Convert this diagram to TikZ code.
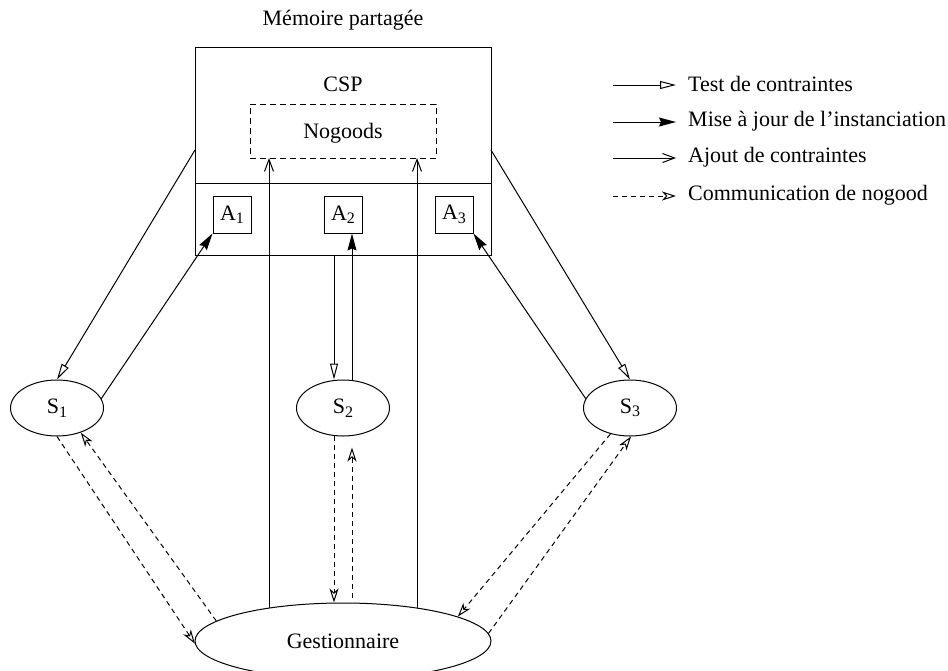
\documentclass[tikz,border=0pt]{standalone}
\usepackage{fontspec}
\setmainfont{Liberation Serif}
\usetikzlibrary{arrows.meta,shapes.geometric,calc}
\newcommand\mysub[1]{\raisebox{-0.35ex}{\fontsize{16}{16}\selectfont #1}}
\tikzset{
  every node/.style={font=\fontsize{22}{26}\selectfont},
  ln/.style={line width=1pt},
  test/.style={ln,-{Triangle[open,length=16pt,width=8pt]}},
  maj/.style={ln,-{Stealth[length=17pt,width=9pt,inset=2pt]}},
  ajout/.style={ln,-{Straight Barb[length=12pt,width=9pt]}},
  nogood/.style={ln,dash pattern=on 5pt off 4pt,-{Stealth[open,length=14pt,width=9pt,inset=4pt]}},
  abox/.style={draw,ln,minimum width=38pt,minimum height=37pt,inner sep=0pt},
  sell/.style={draw,ln,ellipse,minimum width=93pt,minimum height=56pt,inner sep=0pt},
}
\begin{document}
\begin{tikzpicture}[x=1pt,y=-1pt]
\useasboundingbox (0,0) rectangle (948,670);
\clip (0,0) rectangle (948,670);
% memory box
\node[draw,ln,minimum width=296pt,minimum height=208pt,inner sep=0pt] (mem) at (343,151) {};
\coordinate (divL) at (195,183);
\coordinate (divR) at (491,183);
\draw[ln] (divL) -- (divR);
\node (title) at (343,20) {Mémoire partagée};
\node (csp) at (343,84) {CSP};
\node[draw,ln,dash pattern=on 6pt off 4pt,minimum width=186pt,minimum height=54pt,inner sep=0pt] (ng) at (343,131) {};
\node (ngt) at (343,133) {Nogoods};
\node[abox] (A1) at (232,214.5) {A\mysub{1}};
\node[abox] (A2) at (343,214.5) {A\mysub{2}};
\node[abox] (A3) at (454,214.5) {A\mysub{3}};
% S nodes
\node[sell] (S1) at (57,408) {S\mysub{1}};
\node[sell] (S2) at (343,408) {S\mysub{2}};
\node[sell] (S3) at (630,408) {S\mysub{3}};
\node[draw,ln,ellipse,minimum width=296pt,minimum height=76pt,inner sep=0pt] (G) at (343,641) {};
\node (Gt) at (343,641) {Gestionnaire};
% border coordinates
\coordinate (mL) at (195,150);
\coordinate (mR) at (491,150);
\coordinate (mB1) at (334,255);
\coordinate (mB2) at (352,255);
\coordinate (g1) at (269,608);
\coordinate (g2) at (417,608);
\coordinate (n1) at (269,158);
\coordinate (n2) at (417,158);
% test / maj arrows
\draw[test] (mL) -- (S1.north);
\draw[maj] (S1.12) -- (A1.south west);
\draw[test] (mR) -- (S3.north);
\draw[maj] (S3.168) -- (A3.south east);
\draw[test] (mB1) -- (mB1 |- S2.north);
\draw[maj] (mB2 |- S2.north) -- (mB2 |- A2.south);
% ajout
\draw[ajout] (g1) -- (n1);
\draw[ajout] (g2) -- (n2);
% nogood communication
\draw[nogood] (S1.south) -- (G.181);
\draw[nogood] (G.171) -- (S1.-46);
\coordinate (s2a) at (334,436);
\coordinate (s2b) at (352,598);
\draw[nogood] (s2a) -- (s2a |- G.north);
\draw[nogood] (s2b) -- ($(s2b |- S2.south)+(0,11)$);
\draw[nogood] (S3.-127) -- (G.12);
\draw[nogood] (G.3) -- (S3.-88);
% legend
\coordinate (l1a) at (613,85);  \coordinate (l1b) at (676,85);
\coordinate (l2a) at (613,122); \coordinate (l2b) at (676,122);
\coordinate (l3a) at (613,158); \coordinate (l3b) at (676,158);
\coordinate (l4a) at (613,196); \coordinate (l4b) at (676,196);
\draw[test] (l1a) -- (l1b);
\draw[maj] (l2a) -- (l2b);
\draw[ajout] (l3a) -- (l3b);
\draw[nogood] (l4a) -- (l4b);
\node[anchor=west,inner sep=0pt] (t1) at (688,84) {Test de contraintes};
\node[anchor=west,inner sep=0pt] (t2) at (688,121) {Mise à jour de l’instanciation};
\node[anchor=west,inner sep=0pt] (t3) at (688,157) {Ajout de contraintes};
\node[anchor=west,inner sep=0pt] (t4) at (688,195) {Communication de nogood};
\end{tikzpicture}
\end{document}
